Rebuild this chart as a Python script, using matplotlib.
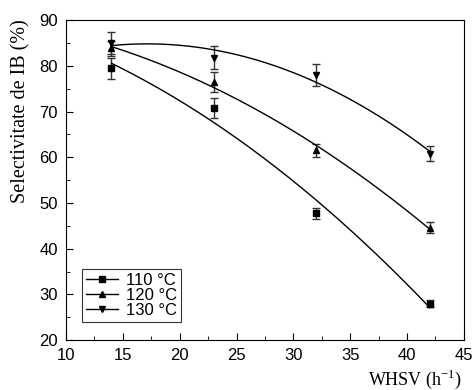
import numpy as np
import matplotlib
matplotlib.use("Agg")
import matplotlib.pyplot as plt
from matplotlib.lines import Line2D
from matplotlib.ticker import MultipleLocator

# WHSV values (h^-1)
whsv = [14, 23, 32, 42]

# selectivity to IB (%) and error bars for each temperature
sel_110 = [79.5, 70.7, 47.7, 28.0]
err_110 = [2.3, 2.2, 1.3, 0.7]
sel_120 = [83.8, 76.4, 61.5, 44.6]
err_120 = [1.6, 2.2, 1.5, 1.2]
sel_130 = [85.0, 81.8, 78.0, 60.8]
err_130 = [2.5, 2.5, 2.4, 1.7]

labels = ["110 °C", "120 °C", "130 °C"]
markers = ["s", "^", "v"]

plt.rcParams["font.family"] = ["Liberation Sans", "DejaVu Sans"]

fig = plt.figure(figsize=(4.72, 3.90), dpi=100)
ax = fig.add_axes([0.1398, 0.128, 0.843, 0.8205])

xfit = np.linspace(min(whsv), max(whsv), 200)
handles = []
for ys, es, lab, m in zip([sel_110, sel_120, sel_130],
                          [err_110, err_120, err_130], labels, markers):
    # 2nd order polynomial fit through the measured points
    coef = np.polyfit(whsv, ys, 2)
    ax.errorbar(whsv, ys, yerr=es, fmt=m, color="black", ms=5,
                capsize=3, elinewidth=1, capthick=1, ecolor="#333333")
    ax.plot(xfit, np.polyval(coef, xfit), color="black", lw=1)
    handles.append(Line2D([], [], color="black", lw=1, marker=m, ms=5, label=lab))

ax.set_xlim(10, 45)
ax.set_ylim(20, 90)
ax.xaxis.set_major_locator(MultipleLocator(5))
ax.xaxis.set_minor_locator(MultipleLocator(2.5))
ax.yaxis.set_major_locator(MultipleLocator(10))
ax.yaxis.set_minor_locator(MultipleLocator(5))
ax.tick_params(which="both", direction="in", labelsize=12, top=False, right=False)
ax.tick_params(which="major", length=5, pad=6)
ax.tick_params(which="minor", length=3)

ax.set_ylabel("Selectivitate de IB (%)", family="Liberation Serif", fontsize=14.5)
ax.yaxis.set_label_coords(-0.09, 0.715)
ax.set_xlabel("WHSV (h$^{\\mathregular{-1}}$)", family="Liberation Serif", fontsize=13)
ax.xaxis.set_label_coords(0.995, -0.085)
ax.xaxis.label.set_horizontalalignment("right")

leg = ax.legend(handles=handles, loc="lower left", bbox_to_anchor=(0.04, 0.056),
                fontsize=12, frameon=True, fancybox=False, edgecolor="black",
                handlelength=1.9, handletextpad=0.5, borderpad=0.25,
                labelspacing=0.0, borderaxespad=0)
leg.get_frame().set_linewidth(0.8)

fig.savefig("out.png", dpi=100)
